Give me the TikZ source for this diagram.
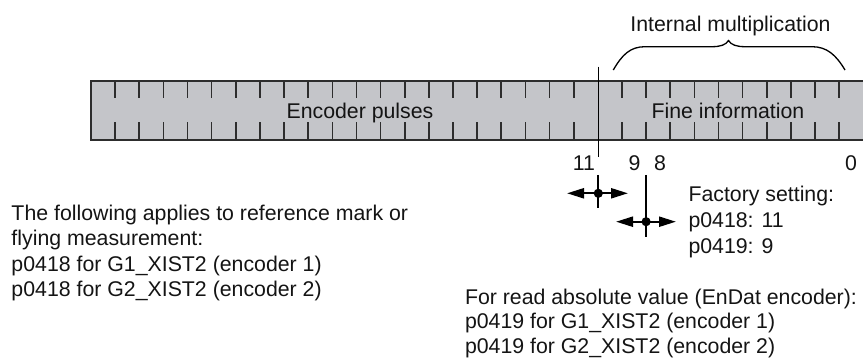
\documentclass[tikz,border=0pt]{standalone}
\usepackage{fontspec}
\setmainfont{Liberation Sans}
\usetikzlibrary{arrows.meta}
\definecolor{barfill}{RGB}{196,197,201}
\definecolor{barline}{RGB}{45,45,45}
\definecolor{txt}{RGB}{20,20,20}
\begin{document}
\begin{tikzpicture}[x=1pt,y=-1pt,
  every node/.style={inner sep=0pt,outer sep=0pt,text=txt,font=\fontsize{21.3}{25}\selectfont},
  barframe/.style={draw=barline,line width=1.6pt},
  tickline/.style={draw=barline,line width=1.6pt},
  divline/.style={draw=black,line width=1.2pt},
  markline/.style={draw=black,line width=2.3pt},
  markarrow/.style={draw=black,line width=2.3pt,{Triangle[length=17pt,width=10pt]}-{Triangle[length=17pt,width=10pt]}},
  bracestyle/.style={draw=black,line width=1.3pt},
  lbl/.style={anchor=base},
  txtline/.style={anchor=base west}]
\useasboundingbox (0,0) rectangle (863,358);
% bar
\coordinate (barTL) at (90.9,81);
\coordinate (barBR) at (863,140);
\fill[barfill] (barTL) rectangle (barBR);
\draw[barframe] (863,81) -- (barTL) |- (barBR);
\foreach \n in {1,...,20,22,23,...,31}{
  \draw[tickline] ({90.9+24.14*\n},81) -- ++(0,17.3);
  \draw[tickline] ({90.9+24.14*\n},140) -- ++(0,-17.7);
}
% divider
\coordinate (divtop) at (598.3,66.7);
\coordinate (divbot) at (598.3,157);
\draw[divline] (divtop) -- (divbot);
% brace
\coordinate (bl) at (613.3,70);
\coordinate (btip) at (728.5,40.5);
\coordinate (br) at (845,70);
\draw[bracestyle] (bl) .. controls (622,55) and (630,46.7) .. (645,46.7) -- (712,46.7)
  .. controls (720,46.7) and (726,45) .. (btip)
  .. controls (731,45) and (737,46.7) .. (745,46.7) -- (812,46.7)
  .. controls (827,46.7) and (836,55) .. (br);
% labels in bar
\node[lbl] (enc) at (360,118.3) {Encoder pulses};
\node[lbl] (fine) at (728,118.3) {Fine information};
\node[lbl] (intm) at (730.5,31.3) {Internal multiplication};
% bit numbers
\node[lbl] (b11) at (584,170.5) {11};
\node[lbl] (b9) at (634.5,170.5) {9};
\node[lbl] (b8) at (660,170.5) {8};
\node[lbl] (b0) at (851,170.5) {0};
% marker 1
\coordinate (m1) at (598.3,193.3);
\coordinate (m1t) at (598.3,175);
\coordinate (m1b) at (598.3,208);
\coordinate (m1l) at (567,193.3);
\coordinate (m1r) at (628,193.3);
\draw[markline] (m1t) -- (m1b);
\draw[markarrow] (m1l) -- (m1r);
\fill (m1) circle (4.6pt);
% marker 2
\coordinate (m2) at (646.1,221.7);
\coordinate (m2t) at (646.1,175);
\coordinate (m2b) at (646.1,236.7);
\coordinate (m2l) at (616,221.7);
\coordinate (m2r) at (676,221.7);
\draw[markline] (m2t) -- (m2b);
\draw[markarrow] (m2l) -- (m2r);
\fill (m2) circle (4.6pt);
% factory setting
\node[txtline] (fs1) at (688.5,201.3) {Factory setting:};
\node[txtline] (fs2) at (688.5,227.5) {p0418: 11};
\node[txtline] (fs3) at (688.5,253.5) {p0419: 9};
% left text
\node[txtline] (l1) at (11.5,220.3) {The following applies to reference mark or};
\node[txtline] (l2) at (11.5,245.8) {flying measurement:};
\node[txtline] (l3) at (11.5,271.3) {p0418 for G1\_XIST2 (encoder 1)};
\node[txtline] (l4) at (11.5,296.8) {p0418 for G2\_XIST2 (encoder 2)};
% right text
\node[txtline] (r1) at (465,304.3) {For read absolute value (EnDat encoder):};
\node[txtline] (r2) at (465,328.7) {p0419 for G1\_XIST2 (encoder 1)};
\node[txtline] (r3) at (465,353) {p0419 for G2\_XIST2 (encoder 2)};
\end{tikzpicture}
\end{document}
